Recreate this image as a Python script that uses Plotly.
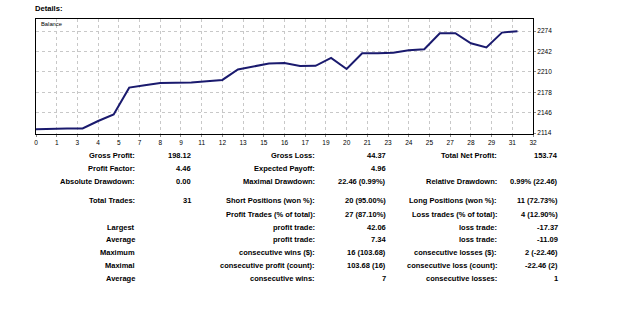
import plotly.graph_objects as go

# ---- data ----
trades = list(range(32))
balance = [2120.00, 2120.90, 2121.20, 2121.40, 2133.00, 2143.20, 2185.26, 2189.00,
           2192.60, 2192.90, 2193.30, 2195.20, 2197.30, 2213.60, 2218.40, 2223.20,
           2223.68, 2219.14, 2219.50, 2231.90, 2214.53, 2239.10, 2239.30, 2240.00,
           2244.00, 2245.30, 2270.30, 2270.60, 2254.80, 2248.14, 2271.50, 2273.74]
x_tick_labels = ["0", "1", "3", "4", "5", "7", "8", "9", "11", "12", "13", "15", "16",
                 "17", "19", "20", "21", "23", "24", "25", "27", "28", "29", "31", "32"]
y_tick_values = [2114, 2146, 2178, 2210, 2242, 2274]

col1_labels = ["Gross Profit:", "Profit Factor:", "Absolute Drawdown:", "Total Trades:", "",
               "Largest", "Average", "Maximum", "Maximal", "Average"]
col2_values = ["198.12", "4.46", "0.00", "31", "", "", "", "", "", ""]
col3_labels = ["Gross Loss:", "Expected Payoff:", "Maximal Drawdown:", "Short Positions (won %):",
               "Profit Trades (% of total):", "profit trade:", "profit trade:",
               "consecutive wins ($):", "consecutive profit (count):", "consecutive wins:"]
col4_values = ["44.37", "4.96", "22.46 (0.99%)", "20 (95.00%)", "27 (87.10%)", "42.06", "7.34",
               "16 (103.68)", "103.68 (16)", "7"]
col5_labels = ["Total Net Profit:", "", "Relative Drawdown:", "Long Positions (won %):",
               "Loss trades (% of total):", "loss trade:", "loss trade:",
               "consecutive losses ($):", "consecutive loss (count):", "consecutive losses:"]
col6_values = ["153.74", "", "0.99% (22.46)", "11 (72.73%)", "4 (12.90%)", "-17.37", "-11.09",
               "2 (-22.46)", "-22.46 (2)", "1"]

# ---- layout geometry (pixels) ----
W, H = 625, 329
PL, PR, PT, PB = 36, 533, 19, 134
row_y = [155, 168.3, 181.7, 200.7, 214, 227.3, 239.3, 252, 265, 278.3]
col_right = [137, 193, 317, 388, 498.5, 560]

def px_to_paper(px, py):
    return (px - PL) / (PR - PL), (PB - py) / (PB - PT)

FONT = "Liberation Sans"

fig = go.Figure()
fig.add_trace(go.Scatter(x=trades, y=balance, mode="lines",
                         line=dict(color="#1a1a6e", width=2), hoverinfo="skip"))

n_ticks = len(x_tick_labels)
xmax = 32
tickvals = [k * xmax / (n_ticks - 1) for k in range(n_ticks)]

fig.update_layout(
    width=W, height=H,
    margin=dict(l=PL, r=W - PR, t=PT, b=H - PB, pad=0),
    paper_bgcolor="white", plot_bgcolor="white",
    showlegend=False,
    xaxis=dict(range=[0, xmax], tickvals=tickvals, ticktext=x_tick_labels,
               showgrid=True, gridcolor="#c8c8c8", griddash="dot", gridwidth=1,
               showline=True, linecolor="black", linewidth=1, mirror=True,
               ticks="outside", ticklen=2, tickcolor="#888",
               tickfont=dict(family=FONT, size=6.5, color="black"),
               zeroline=False, fixedrange=True),
    yaxis=dict(range=[2112.6, 2292.8], tickvals=y_tick_values, side="right",
               showgrid=True, gridcolor="#c8c8c8", griddash="dot", gridwidth=1,
               showline=True, linecolor="black", linewidth=1, mirror=True,
               ticks="outside", ticklen=2, tickcolor="#888",
               tickfont=dict(family=FONT, size=6.5, color="black"),
               zeroline=False, fixedrange=True),
)

annotations = []
# Title "Details:"
x0, y0 = px_to_paper(33, 8.5)
annotations.append(dict(x=x0, y=y0, xref="paper", yref="paper", text="<b>Details:</b>",
                        showarrow=False, xanchor="left", yanchor="middle",
                        font=dict(family=FONT, size=7.6, color="black")))
# "Balance" label
x0, y0 = px_to_paper(38.5, 24.5)
annotations.append(dict(x=x0, y=y0, xref="paper", yref="paper", text="Balance",
                        showarrow=False, xanchor="left", yanchor="middle",
                        font=dict(family=FONT, size=5.8, color="black")))

columns = [col1_labels, col2_values, col3_labels, col4_values, col5_labels, col6_values]
for ci, col in enumerate(columns):
    for ri, txt in enumerate(col):
        if not txt:
            continue
        x0, y0 = px_to_paper(col_right[ci], row_y[ri])
        annotations.append(dict(x=x0, y=y0, xref="paper", yref="paper",
                                text="<b>" + txt + "</b>", showarrow=False,
                                xanchor="right", yanchor="middle",
                                font=dict(family=FONT, size=7.5, color="black")))

fig.update_layout(annotations=annotations)
fig.write_html("out.html", config={"displayModeBar": False})
